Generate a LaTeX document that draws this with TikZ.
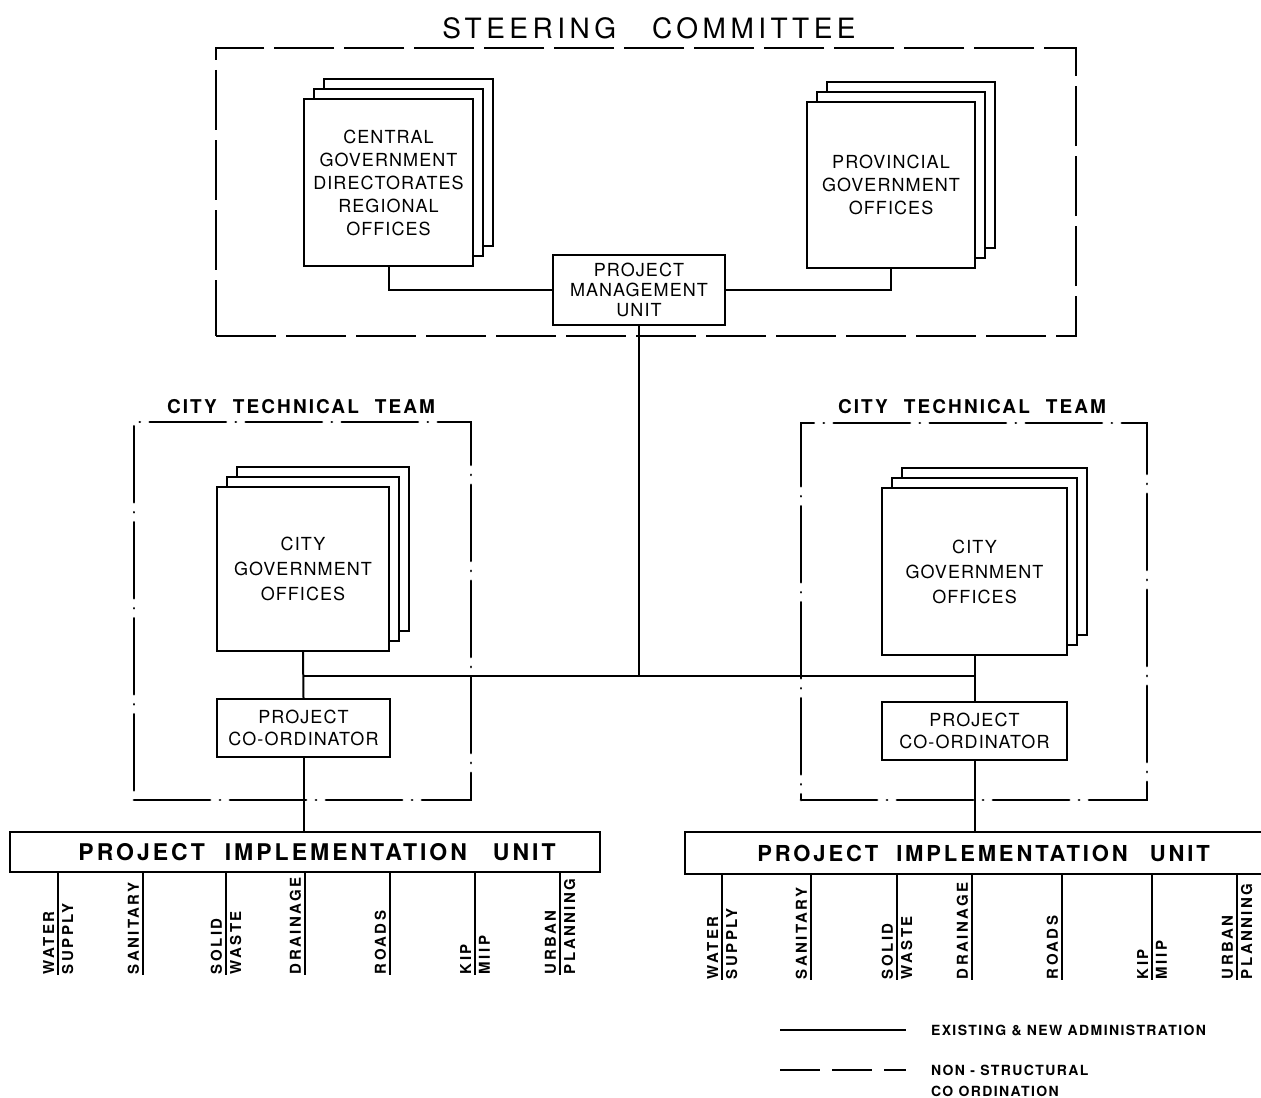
\documentclass[tikz,border=0pt]{standalone}
\usepackage{fontspec}
\setmainfont{TeX Gyre Heros}
\newfontfamily\boxfont[LetterSpace=6]{TeX Gyre Heros}
\newfontfamily\titlefont[LetterSpace=16]{TeX Gyre Heros}
\newfontfamily\teamfont[LetterSpace=11]{TeX Gyre Heros}
\newfontfamily\piufont[LetterSpace=13]{TeX Gyre Heros}
\newfontfamily\tickfont[LetterSpace=16]{TeX Gyre Heros}
\newfontfamily\legfont[LetterSpace=10]{TeX Gyre Heros}
\usetikzlibrary{shadows}
\begin{document}
\begin{tikzpicture}[x=0.5pt,y=-0.5pt,line width=1pt,
  office/.style={draw,fill=white,inner sep=0pt,line width=1pt,
    double copy shadow={shadow xshift=5pt,shadow yshift=5pt},
    align=center,font=\boxfont\fontsize{9}{11.5}\selectfont},
  unitbox/.style={draw,fill=white,inner sep=0pt,line width=1pt,align=center,
    font=\boxfont\fontsize{9}{10}\selectfont},
  piubox/.style={draw,inner sep=0pt,line width=1pt,font=\piufont\bfseries\fontsize{11.5}{13}\selectfont},
  stframe/.style={draw,line width=1.25pt,inner sep=0pt,dash pattern=on 30pt off 5pt},
  ctframe/.style={draw,line width=1.45pt,inner sep=0pt,line cap=round,
    dash pattern=on 38pt off 5pt on 0.01pt off 5pt},
  title/.style={font=\titlefont\fontsize{14}{16}\selectfont},
  team/.style={font=\teamfont\bfseries\fontsize{9.5}{11}\selectfont},
  ticklbl/.style={rotate=90,inner xsep=0pt,inner ysep=1.5pt,font=\tickfont\bfseries\fontsize{7.5}{8}\selectfont},
  legend/.style={inner sep=0pt,font=\legfont\bfseries\fontsize{7}{10.5}\selectfont}
]
\path[use as bounding box] (0,0) rectangle (1261,1097);
\clip (0,0) rectangle (1261,1097);

% steering committee
\node[title] (sctitle) at (649,28) {STEERING\hspace{18pt}COMMITTEE};
\node[stframe,minimum width=430pt,minimum height=144pt] (steering) at (646,192) {};
\node[office,minimum width=84.5pt,minimum height=83.5pt] (central) at (388.5,182.5)
  {CENTRAL\\GOVERNMENT\\DIRECTORATES\\REGIONAL\\OFFICES};
\node[office,minimum width=84pt,minimum height=83pt] (provincial) at (891,185)
  {PROVINCIAL\\GOVERNMENT\\OFFICES};
\node[unitbox,minimum width=86pt,minimum height=35pt] (pmu) at (639,290)
  {PROJECT\\MANAGEMENT\\UNIT};
\draw (central.south) |- (pmu.west);
\draw (provincial.south) |- (pmu.east);

% city technical teams
\node[team] (ltitle) at (301,407) {CITY\hspace{8pt}TECHNICAL\hspace{8pt}TEAM};
\node[team] (rtitle) at (972,407) {CITY\hspace{8pt}TECHNICAL\hspace{8pt}TEAM};
\node[ctframe,minimum width=168.5pt,minimum height=189pt] (lteam) at (302.5,611) {};
\node[ctframe,minimum width=173pt,minimum height=188.5pt] (rteam) at (974,611.5) {};

\node[office,font=\boxfont\fontsize{9}{12.5}\selectfont,minimum width=86pt,minimum height=82pt] (lcity) at (303,569)
  {CITY\\GOVERNMENT\\OFFICES};
\node[office,font=\boxfont\fontsize{9}{12.5}\selectfont,minimum width=92.5pt,minimum height=83.5pt] (rcity) at (974.5,571.5)
  {CITY\\GOVERNMENT\\OFFICES};
\node[unitbox,font=\boxfont\fontsize{9}{11}\selectfont,minimum width=86.5pt,minimum height=29pt] (lpc) at (303.5,728)
  {PROJECT\\CO-ORDINATOR};
\node[unitbox,font=\boxfont\fontsize{9}{11}\selectfont,minimum width=92.5pt,minimum height=29pt] (rpc) at (974.5,731)
  {PROJECT\\CO-ORDINATOR};

\coordinate (hub) at (639,676);
\draw (pmu.south) -- (hub);
\draw (lcity.south) -- (lpc.north);
\draw (rcity.south) -- (rpc.north);
\draw (lcity.south |- hub) -- (rcity.south |- hub);

% implementation units
\node[piubox,minimum width=295pt,minimum height=20pt] (lpiu) at (305,852)
  {\hspace{12pt}PROJECT\hspace{10pt}IMPLEMENTATION\hspace{13pt}UNIT};
\node[piubox,font=\piufont\bfseries\fontsize{11}{13}\selectfont,minimum width=292.5pt,minimum height=21pt] (rpiu) at (977.5,853)
  {\hspace{6pt}PROJECT\hspace{9pt}IMPLEMENTATION\hspace{11pt}UNIT};
\draw (lpc.south) -- (lpc.south |- lpiu.north);
\draw (rpc.south) -- (rpc.south |- rpiu.north);

% departments
\foreach \x/\n in {58/la,143/lb,226/lc,305/ld,390/le,475/lf,560/lg}{
  \coordinate (\n) at (\x,975);
  \draw (\n |- lpiu.south) -- (\n);
}
\foreach \x/\n in {722/ra,811/rb,897/rc,972/rd,1062/re,1152/rf,1237/rg}{
  \coordinate (\n) at (\x,980);
  \draw (\n |- rpiu.south) -- (\n);
}
\foreach \s in {l,r}{
  \node[ticklbl,anchor=south west] at (\s a) {WATER};
  \node[ticklbl,anchor=north west] at (\s a) {SUPPLY};
  \node[ticklbl,anchor=south west] at (\s b) {SANITARY};
  \node[ticklbl,anchor=south west] at (\s c) {SOLID};
  \node[ticklbl,anchor=north west] at (\s c) {WASTE};
  \node[ticklbl,anchor=south west] at (\s d) {DRAINAGE};
  \node[ticklbl,anchor=south west] at (\s e) {ROADS};
  \node[ticklbl,anchor=south west] at (\s f) {KIP};
  \node[ticklbl,anchor=north west] at (\s f) {MIIP};
  \node[ticklbl,anchor=south west] at (\s g) {URBAN};
  \node[ticklbl,anchor=north west] at (\s g) {PLANNING};
}

% legend
\coordinate (k1) at (780,1030); \coordinate (k2) at (906,1030);
\coordinate (k3) at (780,1070); \coordinate (k4) at (906,1070);
\draw (k1) -- (k2);
\draw[dash pattern=on 20pt off 6pt] (k3) -- (k4);
\node[legend,anchor=west] (leg1) at (930,1030) {EXISTING \& NEW ADMINISTRATION};
\node[legend,anchor=west,align=left] (leg2) at (930,1081) {NON - STRUCTURAL\\CO ORDINATION};
\end{tikzpicture}
\end{document}
